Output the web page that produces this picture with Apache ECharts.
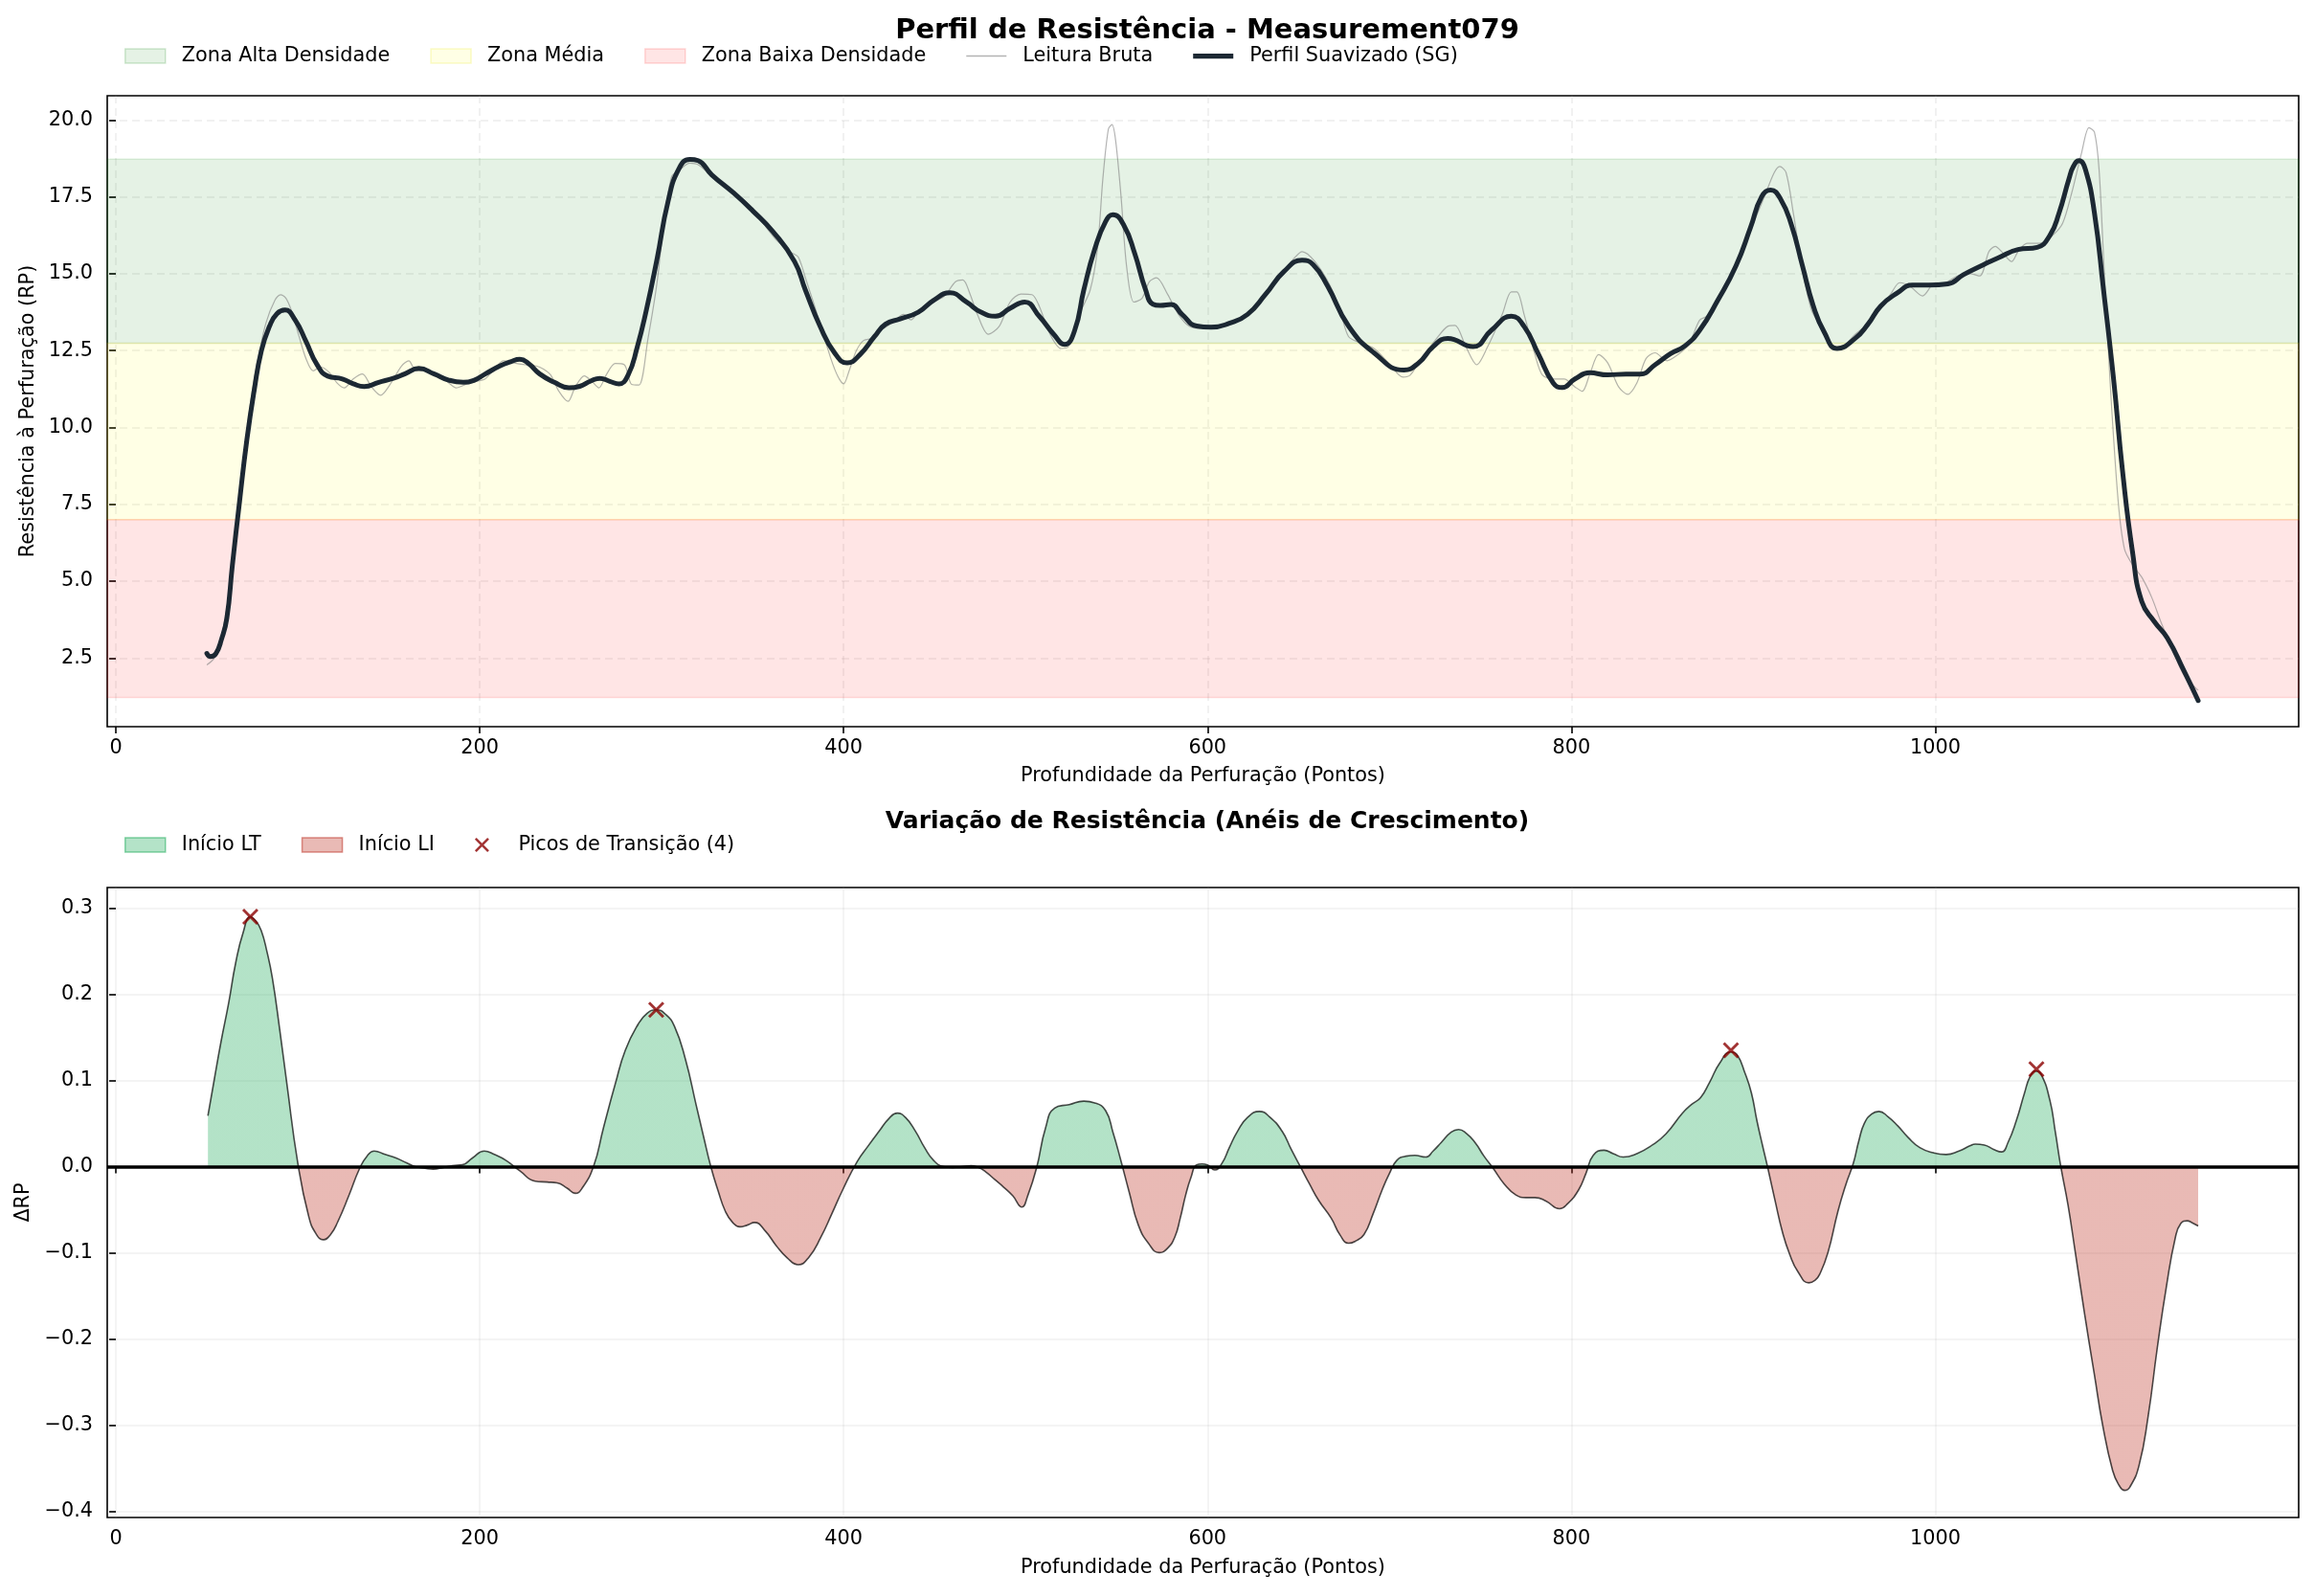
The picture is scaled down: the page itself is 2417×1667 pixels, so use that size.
<!DOCTYPE html>
<html><head><meta charset="utf-8">
<script src="https://cdn.jsdelivr.net/npm/echarts@6/dist/echarts.min.js"></script>
<style>html,body{margin:0;padding:0;background:#fff}#c{width:2417px;height:1667px}</style>
</head><body><div id="c"></div>
<script>
// ---------- DATA ----------
const smoothX = [50,52,55,58,61,64,68,72,76,80,84.5,88.5,93,98.5,104.5,110.5,116.5,124.5,130.5,136.5,144.5,152.5,159,166.5,175,183,191,197,203,211,217,222,227,233,241,249,255,261,266,271.5,276.5,281.5,286.5,291.5,297.5,303.5,309.5,315.5,320,327.5,339.5,350,361,373,379,387,395,402,409,417,423,431,441,449.5,458.5,467.5,475.5,483.5,491.5,499.5,507.5,515.5,521.5,527,532,538,544,548,554,560,566,570,574,580,586,594,602,612,622,632,642,652,658,666,677.5,691.5,708,716,724,732,746,756,767,774,782,790,795,802,810,820,830,838,846,854.5,862.5,870.5,880.5,890.5,898.5,904.5,909.5,915,921,927,933,939,946,956,963,970,979,987.5,996.5,1007,1015.5,1026,1035,1045.5,1056,1063,1068,1073.5,1076,1079,1082.5,1087.5,1092.5,1098,1103,1108.5,1113.5,1120.5,1127.5,1136.5,1144.5];
const smoothY = [2.65,2.55,2.65,3.1,3.8,5.5,7.6,9.6,11.2,12.5,13.3,13.7,13.82,13.5,12.8,12.05,11.67,11.58,11.42,11.33,11.47,11.6,11.75,11.92,11.74,11.54,11.47,11.54,11.74,12.0,12.14,12.22,12.07,11.74,11.47,11.29,11.34,11.51,11.6,11.5,11.42,11.7,12.6,13.8,15.5,17.35,18.42,18.72,18.68,18.22,17.63,17.05,16.38,15.4,14.47,13.3,12.43,12.1,12.37,12.96,13.36,13.53,13.75,14.14,14.38,14.08,13.75,13.62,13.88,14.08,13.62,13.03,12.7,13.16,14.47,15.8,16.7,16.92,16.58,15.66,14.47,14.01,13.97,14.0,13.68,13.3,13.26,13.39,13.68,14.34,15.07,15.44,15.3,14.6,13.3,12.43,11.87,12.1,12.63,12.9,12.63,13.16,13.62,13.29,12.37,11.45,11.3,11.58,11.78,11.71,11.74,11.74,12.04,12.4,12.66,13.16,14.14,15.26,16.51,17.5,17.72,17.43,16.58,15.26,13.95,13.1,12.57,12.9,13.36,13.95,14.37,14.63,14.63,14.67,14.97,15.28,15.53,15.79,15.86,16.25,16.97,18.09,18.5,18.68,18.4,16.97,14.47,11.58,8.55,5.92,4.34,3.68,3.16,2.11,1.12];

const rawX = [50,54,58,62,66,70,74,78,82.5,87.5,90.5,93.5,96.5,100.5,104.5,108.5,112.5,117.5,121.5,125.5,130.5,135.5,140.5,145.5,150.5,157,161,165,171,177,183,187,193,199,203,209,213,219,225,231,235,239,243.5,248.5,252.5,257.5,261.5,265.5,269.5,274.5,279.5,283.5,287.5,292.5,297.5,301.5,305.5,309.5,315.5,320,327,337.5,343.5,347,355,363,371,375,379,387,393,397,400,403,407,411,416,421,427,433,437,441,449.5,455.5,461.5,465.5,469.5,473.5,479.5,485.5,491.5,497.5,503.5,507.5,513.5,519.5,523.5,529.5,535.5,539.5,542.5,545.5,547.5,549.5,552.5,555.5,559.5,564,568,572,578,584,590,596,602,608,616,622,632,642,648,652,659,667.5,673.5,677.5,683.5,691.5,699.5,707.5,711.5,717.5,726,732,736,742,748,754,762,767,770,774,780,784,790,796,802,806,810,815,820,826,831,836,841,846,852.5,858.5,864.5,870.5,874.5,880.5,890.5,900.5,906.5,911.5,914.5,918,922,927,932,937,943,947,956,965,975.5,980.5,986,993,1000,1005,1012,1019,1024.5,1029.5,1033,1036.5,1042,1045.5,1050.5,1057.5,1064.5,1070,1075,1080.5,1084.5,1087.5,1090,1092.5,1096,1100.5,1104,1108.5,1113.5,1119,1124,1129.5,1136.5,1144.5];
const rawY = [2.28,2.5,3.2,4.5,6.5,8.8,10.8,12.2,13.4,14.15,14.32,14.2,13.8,13.0,12.24,11.84,11.97,11.78,11.45,11.29,11.58,11.74,11.32,11.05,11.38,12.0,12.17,11.84,11.84,11.71,11.45,11.29,11.42,11.51,11.58,11.97,12.17,12.1,12.04,12.0,11.9,11.71,11.18,10.85,11.32,11.68,11.51,11.29,11.71,12.08,12.04,11.4,11.38,12.9,14.74,16.84,18.16,18.36,18.6,18.55,18.2,17.7,17.43,17.3,16.7,16.1,15.7,15.55,14.87,13.4,12.24,11.64,11.42,11.84,12.5,12.83,12.9,13.18,13.42,13.68,13.5,13.75,14.08,14.28,14.74,14.8,14.34,13.68,13.03,13.29,14.08,14.34,14.32,13.95,13.03,12.57,12.63,13.68,14.47,15.8,18.1,19.7,19.85,19.34,17.5,15.26,14.08,14.2,14.74,14.87,14.34,13.68,13.29,13.22,13.32,13.32,13.5,13.68,14.34,15.07,15.53,15.72,15.4,14.6,13.68,12.96,12.76,12.57,12.1,11.64,11.71,12.24,12.9,13.29,13.32,12.63,12.04,12.63,13.68,14.41,14.41,13.68,12.37,11.71,11.58,11.58,11.32,11.18,11.71,12.37,12.1,11.32,11.08,11.45,12.24,12.43,12.17,12.37,12.7,13.49,13.62,14.14,15.26,16.71,17.57,18.29,18.49,18.29,16.97,15.13,13.82,13.29,12.7,12.57,13.03,13.49,14.34,14.71,14.6,14.28,14.71,14.71,14.93,15.0,14.93,15.72,15.89,15.72,15.4,15.72,15.99,15.99,16.25,16.64,17.63,18.95,19.75,19.6,18.42,15.53,11.58,7.63,6.05,5.53,5.13,4.47,3.68,2.89,1.97,1.45];

const deltaX = [50.6,54,57.8,62,65.9,70,73.9,77,79.9,83,86,90,94,100,106,110,114,118,122,128,134,138,142,148,154,160,164.5,170,174.5,180,185,190.5,196,202.5,208,214.5,222,230.5,237,242.5,248,252.5,256,262.5,268,274.5,280,287,292,297,302,307,313,319,323,327,331,335,339,343,347,351,357,363,369,375,381,387.5,393.5,399.5,407.5,413.5,419.5,425,429.5,434,439.5,444.5,449.5,455,460,465,470,474,478,483,488,493,498,501,506,511,516,524,532,538,544,548,552,557,562,567.5,573.5,578,582,585,588,591,594,597,600,604,608,612,616.5,622,628.5,634,641,646,651,656,661,668,673,677.5,681,686,691,696,700,704,709,714,720,724,728.5,734,738,742,747,752,757,763,769.5,775,780,786,793.5,798,804,808,812,818,823,828.5,836,844.5,852,861,866,871,876,881.5,887.5,891,895.5,899,902,905,908,912,916,920,924.5,930.5,934,936.5,941,946.5,951,955,958,961,965,969,974,979.5,985,991.5,999,1006,1013,1019,1022,1027,1032,1036.5,1040,1044.5,1049,1052,1055,1058,1063,1066,1069,1073,1077,1082,1087.5,1092,1097.5,1101,1104,1107,1112,1117,1122,1127,1132,1135,1138.5,1141,1144.5];
const deltaY = [0.059,0.1,0.145,0.19,0.237,0.272,0.29,0.285,0.274,0.25,0.219,0.16,0.096,0.004,-0.058,-0.078,-0.085,-0.079,-0.064,-0.034,-0.002,0.012,0.018,0.014,0.01,0.004,0.0,-0.002,-0.003,-0.001,0.001,0.002,0.01,0.018,0.014,0.007,-0.005,-0.017,-0.018,-0.019,-0.025,-0.031,-0.026,0.0,0.045,0.096,0.135,0.165,0.178,0.182,0.177,0.163,0.125,0.071,0.035,0.0,-0.028,-0.052,-0.065,-0.07,-0.068,-0.065,-0.075,-0.092,-0.106,-0.114,-0.105,-0.082,-0.055,-0.027,0.006,0.024,0.041,0.056,0.062,0.057,0.041,0.022,0.007,0.0,-0.001,0.0,0.001,-0.001,-0.006,-0.015,-0.024,-0.034,-0.047,-0.035,-0.002,0.045,0.068,0.072,0.076,0.074,0.065,0.04,0.01,-0.03,-0.068,-0.089,-0.1,-0.095,-0.082,-0.06,-0.033,-0.012,0.002,0.003,0.002,-0.004,0.004,0.022,0.041,0.057,0.064,0.058,0.041,0.02,0.0,-0.02,-0.039,-0.06,-0.08,-0.089,-0.087,-0.079,-0.055,-0.027,-0.008,0.007,0.012,0.013,0.011,0.018,0.028,0.04,0.043,0.039,0.028,0.012,-0.002,-0.02,-0.033,-0.036,-0.036,-0.04,-0.049,-0.043,-0.027,-0.008,0.013,0.019,0.015,0.011,0.015,0.025,0.038,0.062,0.072,0.08,0.098,0.12,0.133,0.13,0.108,0.085,0.053,0.025,-0.002,-0.04,-0.076,-0.102,-0.122,-0.135,-0.132,-0.125,-0.1,-0.052,-0.02,0.004,0.03,0.05,0.061,0.064,0.058,0.047,0.034,0.022,0.016,0.014,0.018,0.024,0.026,0.025,0.02,0.017,0.028,0.053,0.085,0.104,0.111,0.108,0.077,0.04,0.0,-0.045,-0.1,-0.17,-0.242,-0.3,-0.353,-0.37,-0.376,-0.372,-0.347,-0.29,-0.211,-0.14,-0.082,-0.066,-0.063,-0.065,-0.069];

const peakX = [73.9, 297, 887.7, 1055.6];
const peakY = [0.29, 0.182, 0.135, 0.113];

const zoneHigh = [12.74, 18.73];
const zoneMid  = [7.0, 12.74];
const zoneLow  = [1.22, 7.0];

const xTicks = [0, 200, 400, 600, 800, 1000];
const yTicksTop = [2.5, 5.0, 7.5, 10.0, 12.5, 15.0, 17.5, 20.0];
const yTicksBottom = [-0.4, -0.3, -0.2, -0.1, 0.0, 0.1, 0.2, 0.3];

// ---------- CHART ----------
const FONT = 'DejaVu Sans';
const zip = (xs, ys) => xs.map((x, i) => [x, ys[i]]);
const chart = echarts.init(document.getElementById('c'), null, {renderer: 'canvas'});

const tickStyle = {show: true, length: 7, lineStyle: {color: '#000', width: 1.6}};
const labelStyle = {fontSize: 20.8, color: '#000', fontFamily: FONT};
const nameStyle = {fontSize: 20.8, color: '#000', fontFamily: FONT};
const xMark = 'path://M0,1.2 L1.2,0 L5,3.8 L8.8,0 L10,1.2 L6.2,5 L10,8.8 L8.8,10 L5,6.2 L1.2,10 L0,8.8 L3.8,5 Z';
const thinLineIcon = 'path://M0,0 L40,0 L40,1.4 L0,1.4 Z';
const thickLineIcon = 'path://M0,0 L40,0 L40,5 L0,5 Z';

const GREEN = '#27ae60', RED = '#c0392b';

function zoneSeries(name, range, fill, border) {
  return {
    name: name, type: 'line', xAxisIndex: 0, yAxisIndex: 0, data: [], symbol: 'none',
    itemStyle: {color: fill},
    markArea: {silent: true, itemStyle: {color: fill, borderColor: border, borderWidth: 1.5},
      data: [[{yAxis: range[0]}, {yAxis: range[1]}]]}
  };
}

const option = {
  animation: false,
  backgroundColor: '#fff',
  title: [
    {text: 'Perfil de Resistência - Measurement079', left: 1256, top: 13, textAlign: 'center',
     textStyle: {fontSize: 29, fontWeight: 'bold', fontFamily: FONT, color: '#000'}},
    {text: 'Variação de Resistência (Anéis de Crescimento)', left: 1256, top: 841, textAlign: 'center',
     textStyle: {fontSize: 25, fontWeight: 'bold', fontFamily: FONT, color: '#000'}}
  ],
  legend: [
    {left: 130, top: 48, padding: 0, itemWidth: 42, itemHeight: 15, itemGap: 42, selectedMode: false,
     textStyle: {fontSize: 20.8, fontFamily: FONT, color: '#000', padding: [0, 0, 0, 12]},
     data: [
       {name: 'Zona Alta Densidade', icon: 'rect', itemStyle: {color: 'rgba(0,128,0,0.1)', borderColor: 'rgba(0,128,0,0.18)', borderWidth: 1.5}},
       {name: 'Zona Média', icon: 'rect', itemStyle: {color: 'rgba(255,255,0,0.1)', borderColor: 'rgba(230,230,0,0.2)', borderWidth: 1.5}},
       {name: 'Zona Baixa Densidade', icon: 'rect', itemStyle: {color: 'rgba(255,0,0,0.1)', borderColor: 'rgba(255,0,0,0.15)', borderWidth: 1.5}},
       {name: 'Leitura Bruta', icon: thinLineIcon, itemStyle: {color: 'rgba(128,128,128,0.6)', borderWidth: 0}},
       {name: 'Perfil Suavizado (SG)', icon: thickLineIcon, itemStyle: {color: '#1c2833', borderWidth: 0}}
     ]},
    {left: 130, top: 872, padding: 0, itemWidth: 42, itemHeight: 15, itemGap: 42, selectedMode: false,
     textStyle: {fontSize: 20.8, fontFamily: FONT, color: '#000', padding: [0, 0, 0, 12]},
     data: [
       {name: 'Início LT', icon: 'rect', itemStyle: {color: 'rgba(39,174,96,0.35)', borderColor: 'rgba(39,174,96,0.55)', borderWidth: 1.5}},
       {name: 'Início LI', icon: 'rect', itemStyle: {color: 'rgba(192,57,43,0.35)', borderColor: 'rgba(192,57,43,0.55)', borderWidth: 1.5}},
       {name: 'Picos de Transição (4)', icon: xMark, itemStyle: {color: '#8b0000', borderWidth: 0}}
     ]}
  ],
  grid: [
    {left: 112, top: 100, width: 2289, height: 659, show: true, borderColor: '#000', borderWidth: 1.6, backgroundColor: 'transparent'},
    {left: 112, top: 927, width: 2289, height: 658, show: true, borderColor: '#000', borderWidth: 1.6, backgroundColor: 'transparent'}
  ],
  xAxis: [
    {gridIndex: 0, type: 'value', min: -4.75, max: 1199.75,
     axisLine: {show: false}, axisTick: Object.assign({customValues: xTicks}, tickStyle),
     axisLabel: Object.assign({customValues: xTicks, margin: 12, formatter: v => String(v)}, labelStyle),
     splitLine: {show: true, customValues: xTicks, lineStyle: {color: 'rgba(160,160,160,0.2)', type: [8, 5], width: 1.5}},
     name: 'Profundidade da Perfuração (Pontos)', nameLocation: 'middle', nameGap: 41, nameTextStyle: nameStyle},
    {gridIndex: 1, type: 'value', min: -4.75, max: 1199.75,
     axisLine: {show: false}, axisTick: Object.assign({customValues: xTicks}, tickStyle),
     axisLabel: Object.assign({customValues: xTicks, margin: 12, formatter: v => String(v)}, labelStyle),
     splitLine: {show: true, customValues: xTicks, lineStyle: {color: 'rgba(160,160,160,0.16)', type: 'solid', width: 1.5}},
     name: 'Profundidade da Perfuração (Pontos)', nameLocation: 'middle', nameGap: 42, nameTextStyle: nameStyle}
  ],
  yAxis: [
    {gridIndex: 0, type: 'value', min: 0.27, max: 20.79,
     axisLine: {show: false}, axisTick: Object.assign({customValues: yTicksTop}, tickStyle),
     axisLabel: Object.assign({customValues: yTicksTop, margin: 15, formatter: v => v.toFixed(1)}, labelStyle),
     splitLine: {show: true, customValues: yTicksTop, lineStyle: {color: 'rgba(160,160,160,0.2)', type: [8, 5], width: 1.5}},
     name: 'Resistência à Perfuração (RP)', nameLocation: 'middle', nameGap: 72, nameTextStyle: nameStyle},
    {gridIndex: 1, type: 'value', min: -0.4075, max: 0.324,
     axisLine: {show: false}, axisTick: Object.assign({customValues: yTicksBottom}, tickStyle),
     axisLabel: Object.assign({customValues: yTicksBottom, margin: 15,
       formatter: v => v.toFixed(1).replace('-', '\u2212')}, labelStyle),
     splitLine: {show: true, customValues: yTicksBottom, lineStyle: {color: 'rgba(160,160,160,0.16)', type: 'solid', width: 1.5}},
     name: 'ΔRP', nameLocation: 'middle', nameGap: 76, nameTextStyle: nameStyle}
  ],
  visualMap: [{
    type: 'piecewise', show: false, seriesIndex: 7, dimension: 1,
    pieces: [{gt: 0, lte: 1, color: GREEN}, {gt: -1, lte: 0, color: RED}],
    outOfRange: {color: '#999'}
  }],
  series: [
    zoneSeries('Zona Alta Densidade', zoneHigh, 'rgba(0,128,0,0.1)', 'rgba(0,128,0,0.12)'),
    zoneSeries('Zona Média', zoneMid, 'rgba(255,255,0,0.1)', 'rgba(255,200,0,0.15)'),
    zoneSeries('Zona Baixa Densidade', zoneLow, 'rgba(255,0,0,0.1)', 'rgba(255,0,0,0.12)'),
    {name: 'Leitura Bruta', type: 'line', xAxisIndex: 0, yAxisIndex: 0, data: zip(rawX, rawY),
     symbol: 'none', smooth: 0.3, lineStyle: {color: 'rgba(128,128,128,0.6)', width: 1.2},
     itemStyle: {color: 'rgba(128,128,128,0.6)'}, z: 3},
    {name: 'Perfil Suavizado (SG)', type: 'line', xAxisIndex: 0, yAxisIndex: 0, data: zip(smoothX, smoothY),
     symbol: 'none', smooth: 0.5, lineStyle: {color: '#1c2833', width: 5, join: 'round', cap: 'round'},
     itemStyle: {color: '#1c2833'}, z: 4},
    {name: 'Início LT', type: 'line', xAxisIndex: 1, yAxisIndex: 1, data: [], symbol: 'none',
     itemStyle: {color: 'rgba(39,174,96,0.35)'}},
    {name: 'Início LI', type: 'line', xAxisIndex: 1, yAxisIndex: 1, data: [], symbol: 'none',
     itemStyle: {color: 'rgba(192,57,43,0.35)'}},
    {name: 'ΔRP área', type: 'line', xAxisIndex: 1, yAxisIndex: 1, data: zip(deltaX, deltaY),
     symbol: 'none', smooth: 0.5, lineStyle: {width: 0, opacity: 0},
     areaStyle: {opacity: 0.35}, z: 2},
    {name: 'ΔRP', type: 'line', xAxisIndex: 1, yAxisIndex: 1, data: zip(deltaX, deltaY),
     symbol: 'none', smooth: 0.5, lineStyle: {color: 'rgba(0,0,0,0.7)', width: 1.6},
     itemStyle: {color: 'rgba(0,0,0,0.7)'}, z: 3,
     markLine: {silent: true, symbol: ['none', 'none'], label: {show: false},
       lineStyle: {color: '#000', width: 3.5, type: 'solid'}, data: [{yAxis: 0}]}},
    {name: 'Picos de Transição (4)', type: 'scatter', xAxisIndex: 1, yAxisIndex: 1,
     data: zip(peakX, peakY), symbol: xMark, symbolSize: 17,
     itemStyle: {color: '#8b0000'}, z: 6}
  ]
};
chart.setOption(option);
</script>
</body></html>
